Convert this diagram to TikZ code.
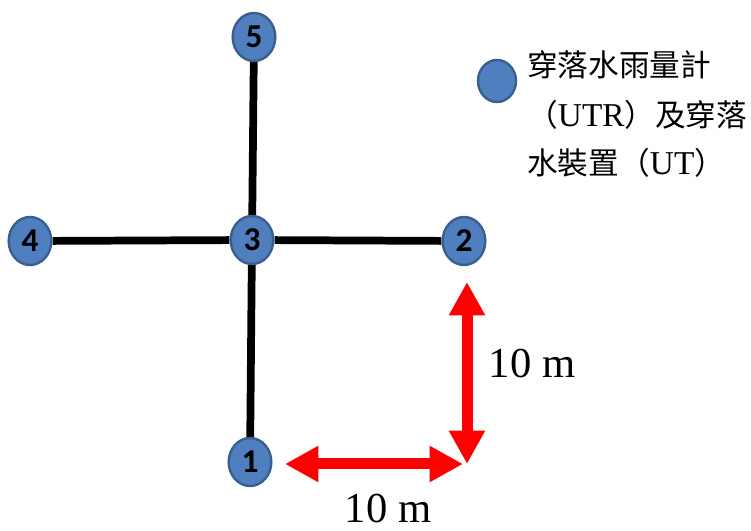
\documentclass[tikz,border=0pt]{standalone}
\usepackage{fontspec}
\setmainfont{Liberation Serif}
\newfontfamily\cjk{Noto Sans CJK TC}
\newfontfamily\numfont{Carlito}
\usetikzlibrary{shapes.geometric,arrows.meta,backgrounds}
\definecolor{stationfill}{HTML}{4F7FBE}
\definecolor{stationedge}{HTML}{3A5F8E}

\begin{document}
\begin{tikzpicture}[x=0.75pt,y=-0.75pt,
  station/.style={ellipse, draw=stationedge, fill=stationfill, line width=1.8pt,
    minimum width=32pt, minimum height=36pt, inner sep=0pt,
    font=\numfont\bfseries\fontsize{25}{25}\selectfont},
  link/.style={line width=5.8pt, black},
  span/.style={draw=red, line width=8.25pt,
    {Triangle[width=25.5pt,length=25pt]}-{Triangle[width=25.5pt,length=25pt]}},
  dimlabel/.style={inner sep=0pt, font=\fontsize{32}{32}\selectfont},
  legendline/.style={anchor=west, inner sep=0pt, font=\cjk\fontsize{23}{23}\selectfont}
]
\useasboundingbox (0,0) rectangle (751,531);

% stations
\node[station] (n5) at (254,37)  {5};
\node[station] (n4) at (30,241)  {4};
\node[station] (n3) at (252,240) {3};
\node[station] (n2) at (464,241) {2};
\node[station] (n1) at (250,462) {1};

% cable links behind the stations
\begin{pgfonlayer}{background}
  \draw[link] (n5) -- (n3);
  \draw[link] (n3) -- (n1);
  \draw[link] (n4) -- (n3);
  \draw[link] (n3) -- (n2);
\end{pgfonlayer}

% spacing dimensions
\coordinate (vtop) at (467,282);
\coordinate (vbot) at (467,464);
\coordinate (hleft) at (285,464);
\coordinate (hright) at (463,464);
\draw[span] (vtop) -- (vbot);
\draw[span] (hleft) -- (hright);
\node[dimlabel] (dv) at (532,364) {10 m};
\node[dimlabel] (dh) at (388,509) {10 m};

% legend
\node[station, minimum width=28.5pt, minimum height=31.5pt] (key) at (497,81) {};
\node[legendline] (l1) at (527,65) {穿落水雨量計};
\node[legendline] (l2) at (527,115) {（{\rmfamily\fontsize{25}{25}\selectfont UTR}）及穿落};
\node[legendline] (l3) at (527,163) {水裝置（{\rmfamily\fontsize{25}{25}\selectfont UT}）};
\end{tikzpicture}
\end{document}
